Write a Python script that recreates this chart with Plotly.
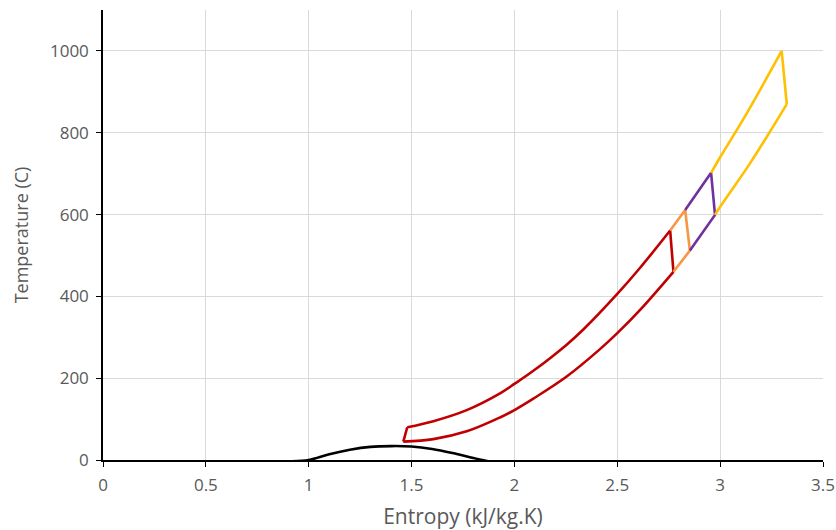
import plotly.graph_objects as go

# Saturation dome (black)
dome_s = [0.92, 1.0, 1.1, 1.2, 1.3, 1.4, 1.5, 1.6, 1.7, 1.8, 1.88]
dome_T = [-3, 0, 14, 25, 32, 34, 33, 27, 17, 5, -4]

# Red loop: upper curve, right edge, lower curve, left edge
red_upper_s = [1.479, 1.606, 1.768, 1.930, 2.0, 2.092, 2.254, 2.335, 2.5, 2.611, 2.757]
red_upper_T = [80, 95, 122, 163, 186, 218, 282, 319, 406, 470, 561]
red_lower_s = [2.773, 2.611, 2.5, 2.416, 2.254, 2.092, 2.0, 1.930, 1.768, 1.606, 1.460]
red_lower_T = [460, 367, 310, 271, 204, 150, 122, 104, 70, 51, 45]

# Orange loop
orange_s = [2.757, 2.830, 2.853, 2.773]
orange_T = [561, 611, 512, 460]

# Purple loop
purple_s = [2.830, 2.956, 2.975, 2.853]
purple_T = [611, 702, 599, 512]

# Yellow loop: upper curve, right edge, lower curve
yellow_upper_s = [2.956, 3.0, 3.13, 3.299]
yellow_upper_T = [702, 740, 848, 1000]
yellow_lower_s = [3.324, 3.145, 3.0, 2.975]
yellow_lower_T = [870, 725, 619, 599]

x_ticks = [0, 0.5, 1, 1.5, 2, 2.5, 3, 3.5]
x_tick_text = ["0", "0.5", "1", "1.5", "2", "2.5", "3", "3.5"]
y_ticks = [0, 200, 400, 600, 800, 1000]

RED, ORANGE, PURPLE, YELLOW, BLACK = "#C00000", "#F79646", "#7030A0", "#FFC000", "#000000"
W = 2.6

fig = go.Figure()


def add(xs, ys, color, shape="linear"):
    line = dict(color=color, width=W)
    if shape == "spline":
        line.update(shape="spline", smoothing=1.0)
    fig.add_trace(go.Scatter(x=xs, y=ys, mode="lines", line=line,
                             showlegend=False, hoverinfo="skip"))


add(dome_s, dome_T, BLACK, "spline")
# red
add(red_upper_s, red_upper_T, RED, "spline")
add([red_upper_s[-1], red_lower_s[0]], [red_upper_T[-1], red_lower_T[0]], RED)
add(red_lower_s, red_lower_T, RED, "spline")
add([red_lower_s[-1], red_upper_s[0]], [red_lower_T[-1], red_upper_T[0]], RED)
# orange, purple
add(orange_s, orange_T, ORANGE)
add(purple_s, purple_T, PURPLE)
# yellow
add(yellow_upper_s, yellow_upper_T, YELLOW, "spline")
add([yellow_upper_s[-1], yellow_lower_s[0]], [yellow_upper_T[-1], yellow_lower_T[0]], YELLOW)
add(yellow_lower_s, yellow_lower_T, YELLOW, "spline")

font_family = "Open Sans, Noto Sans, sans-serif"
fig.update_layout(
    width=836, height=530,
    margin=dict(l=103, r=13, t=10, b=70),
    paper_bgcolor="white", plot_bgcolor="white",
    font=dict(family=font_family, size=17, color="#595959"),
)
fig.update_xaxes(
    range=[0, 3.5], tickvals=x_ticks, ticktext=x_tick_text,
    showgrid=True, gridcolor="#D9D9D9", gridwidth=1.3,
    showline=True, linecolor="#000000", linewidth=1.5,
    ticks="outside", ticklen=5, tickcolor="#000000",
    zeroline=False, automargin=False, ticklabelstandoff=4,
    tickfont=dict(size=17, color="#595959"),
    title=dict(text="Entropy (kJ/kg.K)", font=dict(size=21, color="#595959"), standoff=18),
)
fig.update_yaxes(
    range=[0, 1100], tickvals=y_ticks,
    showgrid=True, gridcolor="#D9D9D9", gridwidth=1.3,
    showline=True, linecolor="#000000", linewidth=1.5,
    ticks="outside", ticklen=5, tickcolor="#000000",
    zeroline=False, automargin=False, ticklabelstandoff=4,
    tickfont=dict(size=17, color="#595959"),
    title=dict(text="Temperature (C)", font=dict(size=18, color="#595959"), standoff=17),
)

fig.write_html("out.html")
